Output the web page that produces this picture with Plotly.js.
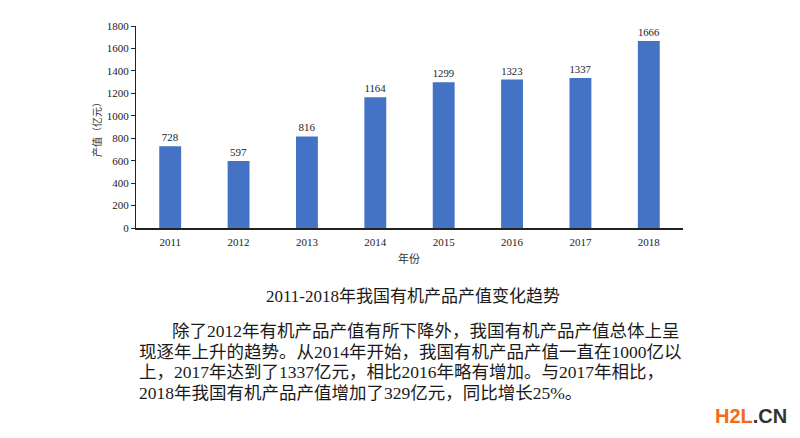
<!DOCTYPE html>
<html>
<head>
<meta charset="utf-8">
<script src="https://cdn.plot.ly/plotly-3.0.1.min.js"></script>
<style>
html,body{margin:0;padding:0;background:#fff;}
#chart{width:800px;height:438px;}
</style>
</head>
<body>
<div id="chart"></div>
<script>
// Data
const years = ['2011','2012','2013','2014','2015','2016','2017','2018'];
const outputValues = [728, 597, 816, 1164, 1299, 1323, 1337, 1666];
const yTicks = [0,200,400,600,800,1000,1200,1400,1600,1800];

const yAxisTitle = '产值（亿元）';
const xAxisTitle = '年份';
const caption = '2011-2018年我国有机产品产值变化趋势';
const paragraphLines = [
  '除了2012年有机产品产值有所下降外，我国有机产品产值总体上呈',
  '现逐年上升的趋势。从2014年开始，我国有机产品产值一直在1000亿以',
  '上，2017年达到了1337亿元，相比2016年略有增加。与2017年相比，',
  '2018年我国有机产品产值增加了329亿元，同比增长25%。'
];

const serif = '"Liberation Serif", "Times New Roman", "Noto Sans CJK SC", serif';
const cjk = '"Liberation Serif", "Noto Sans CJK SC", serif';

// plot area in px: left 136, right 683, top 26, bottom 228
const L = 136, R = 683, T = 26, B = 228;
const px2x = p => (p - L) / (R - L);
const px2y = p => (B - p) / (B - T);

const annotations = [
  {text: yAxisTitle, xref:'paper', yref:'paper', x: px2x(97), y: 0.5, textangle: -90,
   showarrow:false, font:{family:cjk, size:10, color:'#333'}, xanchor:'center', yanchor:'middle'},
  {text: xAxisTitle, xref:'paper', yref:'paper', x: px2x(409), y: px2y(258),
   showarrow:false, font:{family:cjk, size:11, color:'#333'}, xanchor:'center', yanchor:'middle'},
  {text: caption, xref:'paper', yref:'paper', x: px2x(413), y: px2y(296),
   showarrow:false, font:{family:cjk, size:17, color:'#1a1a1a'}, xanchor:'center', yanchor:'middle'}
];
const lineY = [331, 352, 372, 393];
const lineX = [170, 137, 137, 137];
paragraphLines.forEach((t, i) => {
  annotations.push({text: t, xref:'paper', yref:'paper', x: px2x(lineX[i]), y: px2y(lineY[i]),
    showarrow:false, font:{family:cjk, size:17.5, color:'#1a1a1a'}, xanchor:'left', yanchor:'middle'});
});
annotations.push({text: '<b><span style="color:#f26a1b">H2L</span><span style="color:#333">.CN</span></b>',
  xref:'paper', yref:'paper', x: px2x(713), y: px2y(416), showarrow:false,
  font:{family:'"Liberation Sans", Arial, sans-serif', size:20}, xanchor:'left', yanchor:'middle'});

const trace = {
  type: 'bar',
  x: years,
  y: outputValues,
  text: outputValues.map(String),
  textposition: 'outside',
  textfont: {family: serif, size: 11, color: '#222'},
  cliponaxis: false,
  marker: {color: '#4472C4'},
  hoverinfo: 'x+y'
};

const layout = {
  width: 800, height: 438,
  margin: {l: L, r: 800 - R, t: T, b: 438 - B, pad: 0},
  paper_bgcolor: '#fff', plot_bgcolor: '#fff',
  bargap: 0.68,
  showlegend: false,
  xaxis: {
    type: 'category', range: [-0.5, 7.5],
    showline: true, linecolor: '#222', linewidth: 1.5,
    ticks: '', showgrid: false, zeroline: false,
    tickfont: {family: serif, size: 11, color: '#222'},
    ticklabelstandoff: 3
  },
  yaxis: {
    range: [0, 1800], tickvals: yTicks,
    showline: true, linecolor: '#222', linewidth: 1,
    ticks: 'outside', ticklen: 4, tickcolor: '#222',
    showgrid: false, zeroline: false,
    tickfont: {family: serif, size: 11, color: '#222'}
  },
  annotations: annotations
};

Plotly.newPlot('chart', [trace], layout, {displayModeBar: false, staticPlot: true});
</script>
</body>
</html>
